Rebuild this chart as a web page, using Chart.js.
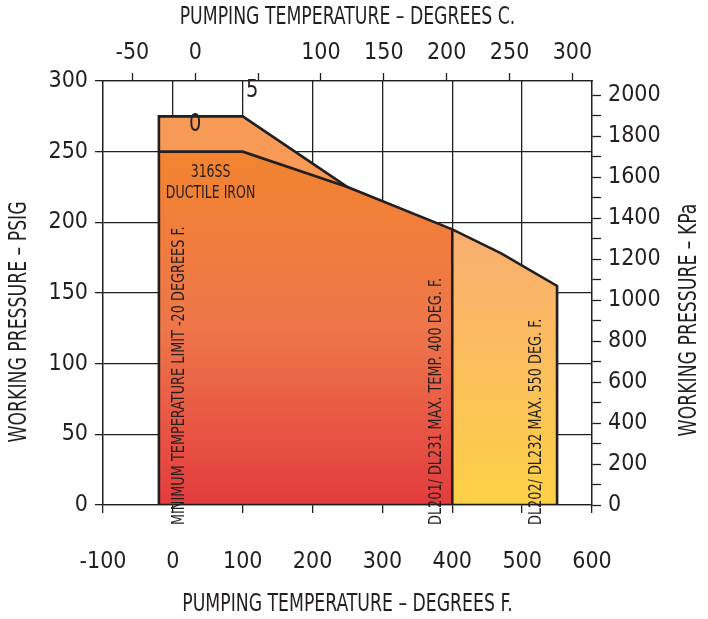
<!DOCTYPE html>
<html>
<head>
<meta charset="utf-8">
<script src="https://cdn.jsdelivr.net/npm/chart.js@4/dist/chart.umd.min.js"></script>
<style>
  html, body { margin: 0; padding: 0; background: #fff; }
  canvas { display: block; }
</style>
</head>
<body>
<canvas id="chart" width="708" height="619"></canvas>
<script>
// temperatures in deg F, pressures in psig
const ductileTemps = [-20, 100, 250, 400];
const ductilePsig = [250, 250, 225, 195];
const ssTemps = [-20, 100, 250];
const ssPsig = [275, 275, 225];
const hiTemps = [400, 470, 550];
const hiPsig = [195, 178, 155];

const fTicks = [-100, 0, 100, 200, 300, 400, 500, 600];
const psigTicks = [0, 50, 100, 150, 200, 250, 300];
const cTicks = [-50, 0, 50, 100, 150, 200, 250, 300];
const cLabels = ["-50", "0", "", "100", "150", "200", "250", "300"];
const kpaTicks = [0, 100, 200, 300, 400, 500, 600, 700, 800, 900, 1000,
  1100, 1200, 1300, 1400, 1500, 1600, 1700, 1800, 1900, 2000];

const FONT = "'DejaVu Sans Condensed', 'DejaVu Sans', sans-serif";
const INK = "#231f20";

const pts = (xs, ys) => xs.map((x, i) => ({ x: x, y: ys[i] }));

// outer outline of the whole envelope
const outline = [{ x: ssTemps[0], y: 0 }]
  .concat(pts(ssTemps.slice(0, 2), ssPsig.slice(0, 2)))
  .concat(pts(ductileTemps.slice(2), ductilePsig.slice(2)))
  .concat(pts(hiTemps.slice(1), hiPsig.slice(1)))
  .concat([{ x: hiTemps[hiTemps.length - 1], y: 0 }, { x: ssTemps[0], y: 0 }]);

function vGradient(context, topVal, stops) {
  const chart = context.chart;
  if (!chart.chartArea) return stops[0];
  const y = chart.scales.y;
  const g = chart.ctx.createLinearGradient(0, y.getPixelForValue(topVal), 0, y.getPixelForValue(0));
  stops.forEach((c, i) => g.addColorStop(i / (stops.length - 1), c));
  return g;
}

// notes placed in data units (deg F, psig)
const notes = [
  { text: "316SS", x: 54, y: 235, rot: false },
  { text: "DUCTILE IRON", x: 54, y: 220, rot: false },
  { text: "MINIMUM TEMPERATURE LIMIT -20 DEGREES F.", x: 10, y: 0, rot: true },
  { text: "DL201/ DL231 MAX. TEMP. 400 DEG. F.", x: 377, y: 0, rot: true },
  { text: "DL202/ DL232 MAX. 550 DEG. F.", x: 521, y: 0, rot: true }
];

function drawText(ctx, text, x, y, size, up, sx, align) {
  ctx.save();
  ctx.translate(x, y);
  if (up) ctx.rotate(-Math.PI / 2);
  ctx.scale(sx, 1);
  ctx.font = size + "px " + FONT;
  ctx.textAlign = align || "center";
  ctx.textBaseline = "middle";
  ctx.fillText(text, 0, 0);
  ctx.restore();
}

const notesPlugin = {
  id: "notes",
  afterDatasetsDraw(chart) {
    const ctx = chart.ctx;
    const xs = chart.scales.x, ys = chart.scales.y, c = chart.scales.x2;
    const area = chart.chartArea;
    ctx.save();
    ctx.fillStyle = INK;
    notes.forEach(n => {
      const px = xs.getPixelForValue(n.x), py = ys.getPixelForValue(n.y);
      if (n.rot) drawText(ctx, n.text, px, py + 20, 17, true, 0.84, "left");
      else drawText(ctx, n.text, px, py, 17, false, 0.82);
    });
    // stray pieces of the "50" C label
    drawText(ctx, "5", c.getPixelForValue(50) - 6, ys.getPixelForValue(293), 24, false, 0.9);
    drawText(ctx, "0", c.getPixelForValue(0), ys.getPixelForValue(269), 24, false, 0.9);
    // axis titles
    const mid = (area.left + area.right) / 2;
    drawText(ctx, "PUMPING TEMPERATURE – DEGREES C.", mid, 18, 24, false, 0.8);
    drawText(ctx, "PUMPING TEMPERATURE – DEGREES F.", mid, 605, 24, false, 0.8);
    drawText(ctx, "WORKING PRESSURE – PSIG", 20, 322, 24, true, 0.8);
    drawText(ctx, "WORKING PRESSURE – KPa", 690, 320, 24, true, 0.8);
    ctx.restore();
  }
};

const tickFont = { family: FONT, size: 23 };
const gridStyle = { color: INK, lineWidth: 1.3, tickLength: 8, tickColor: INK, tickWidth: 1.3 };

new Chart(document.getElementById("chart"), {
  type: "scatter",
  data: {
    datasets: [
      { data: outline, showLine: true, borderColor: INK, borderWidth: 2.6, pointRadius: 0, fill: false },
      { data: pts(ductileTemps.slice(0, 3), ductilePsig.slice(0, 3)), showLine: true, borderColor: INK, borderWidth: 2.6, pointRadius: 0, fill: false },
      { data: [{ x: hiTemps[0], y: 0 }, { x: hiTemps[0], y: hiPsig[0] }], showLine: true, borderColor: INK, borderWidth: 2.6, pointRadius: 0, fill: false },
      {
        data: pts(ssTemps, ssPsig), showLine: true, borderWidth: 0, pointRadius: 0,
        fill: 4, backgroundColor: "#f79a56"
      },
      {
        data: pts(ductileTemps, ductilePsig), showLine: true, borderWidth: 0, pointRadius: 0,
        fill: "origin",
        backgroundColor: ctx => vGradient(ctx, 250, ["#f28430", "#ee764a", "#e33c3e"])
      },
      {
        data: pts(hiTemps, hiPsig), showLine: true, borderWidth: 0, pointRadius: 0,
        fill: "origin",
        backgroundColor: ctx => vGradient(ctx, 195, ["#f9ad72", "#fdd146"])
      }
    ]
  },
  options: {
    responsive: false,
    animation: false,
    devicePixelRatio: 1,
    layout: { padding: 0 },
    plugins: { legend: { display: false }, tooltip: { enabled: false } },
    scales: {
      x: {
        type: "linear", position: "bottom", min: -100, max: 600,
        afterBuildTicks: s => { s.ticks = fTicks.map(v => ({ value: v })); },
        afterFit: s => { s.height = 114; },
        grid: gridStyle,
        border: { color: INK, width: 1.3 },
        ticks: { font: tickFont, color: INK, padding: 35, maxRotation: 0 }
      },
      x2: {
        type: "linear", position: "top", min: (-100 - 32) / 1.8, max: (600 - 32) / 1.8,
        afterBuildTicks: s => { s.ticks = cTicks.map(v => ({ value: v })); },
        afterFit: s => { s.height = 81; },
        grid: { drawOnChartArea: false, tickLength: 8, tickColor: INK, tickWidth: 1.3 },
        border: { color: INK, width: 1.3 },
        ticks: { font: tickFont, color: INK, padding: 6, maxRotation: 0, callback: (v, i) => cLabels[i] }
      },
      y: {
        type: "linear", position: "left", min: 0, max: 300,
        afterBuildTicks: s => { s.ticks = psigTicks.map(v => ({ value: v })); },
        afterFit: s => { s.width = 103; },
        grid: gridStyle,
        border: { color: INK, width: 1.3 },
        ticks: { font: tickFont, color: INK, padding: 7 }
      },
      yk: {
        type: "linear", position: "right", min: 0, max: 300 * 6.895,
        afterBuildTicks: s => { s.ticks = kpaTicks.map(v => ({ value: v })); },
        afterFit: s => { s.width = 116; },
        grid: { drawOnChartArea: false, tickLength: 9, tickColor: INK, tickWidth: 1.3 },
        border: { color: INK, width: 1.3 },
        ticks: { font: tickFont, color: INK, padding: 7, autoSkip: false, callback: v => (v % 200 === 0 ? String(v) : "") }
      }
    }
  },
  plugins: [notesPlugin]
});
</script>
</body>
</html>
